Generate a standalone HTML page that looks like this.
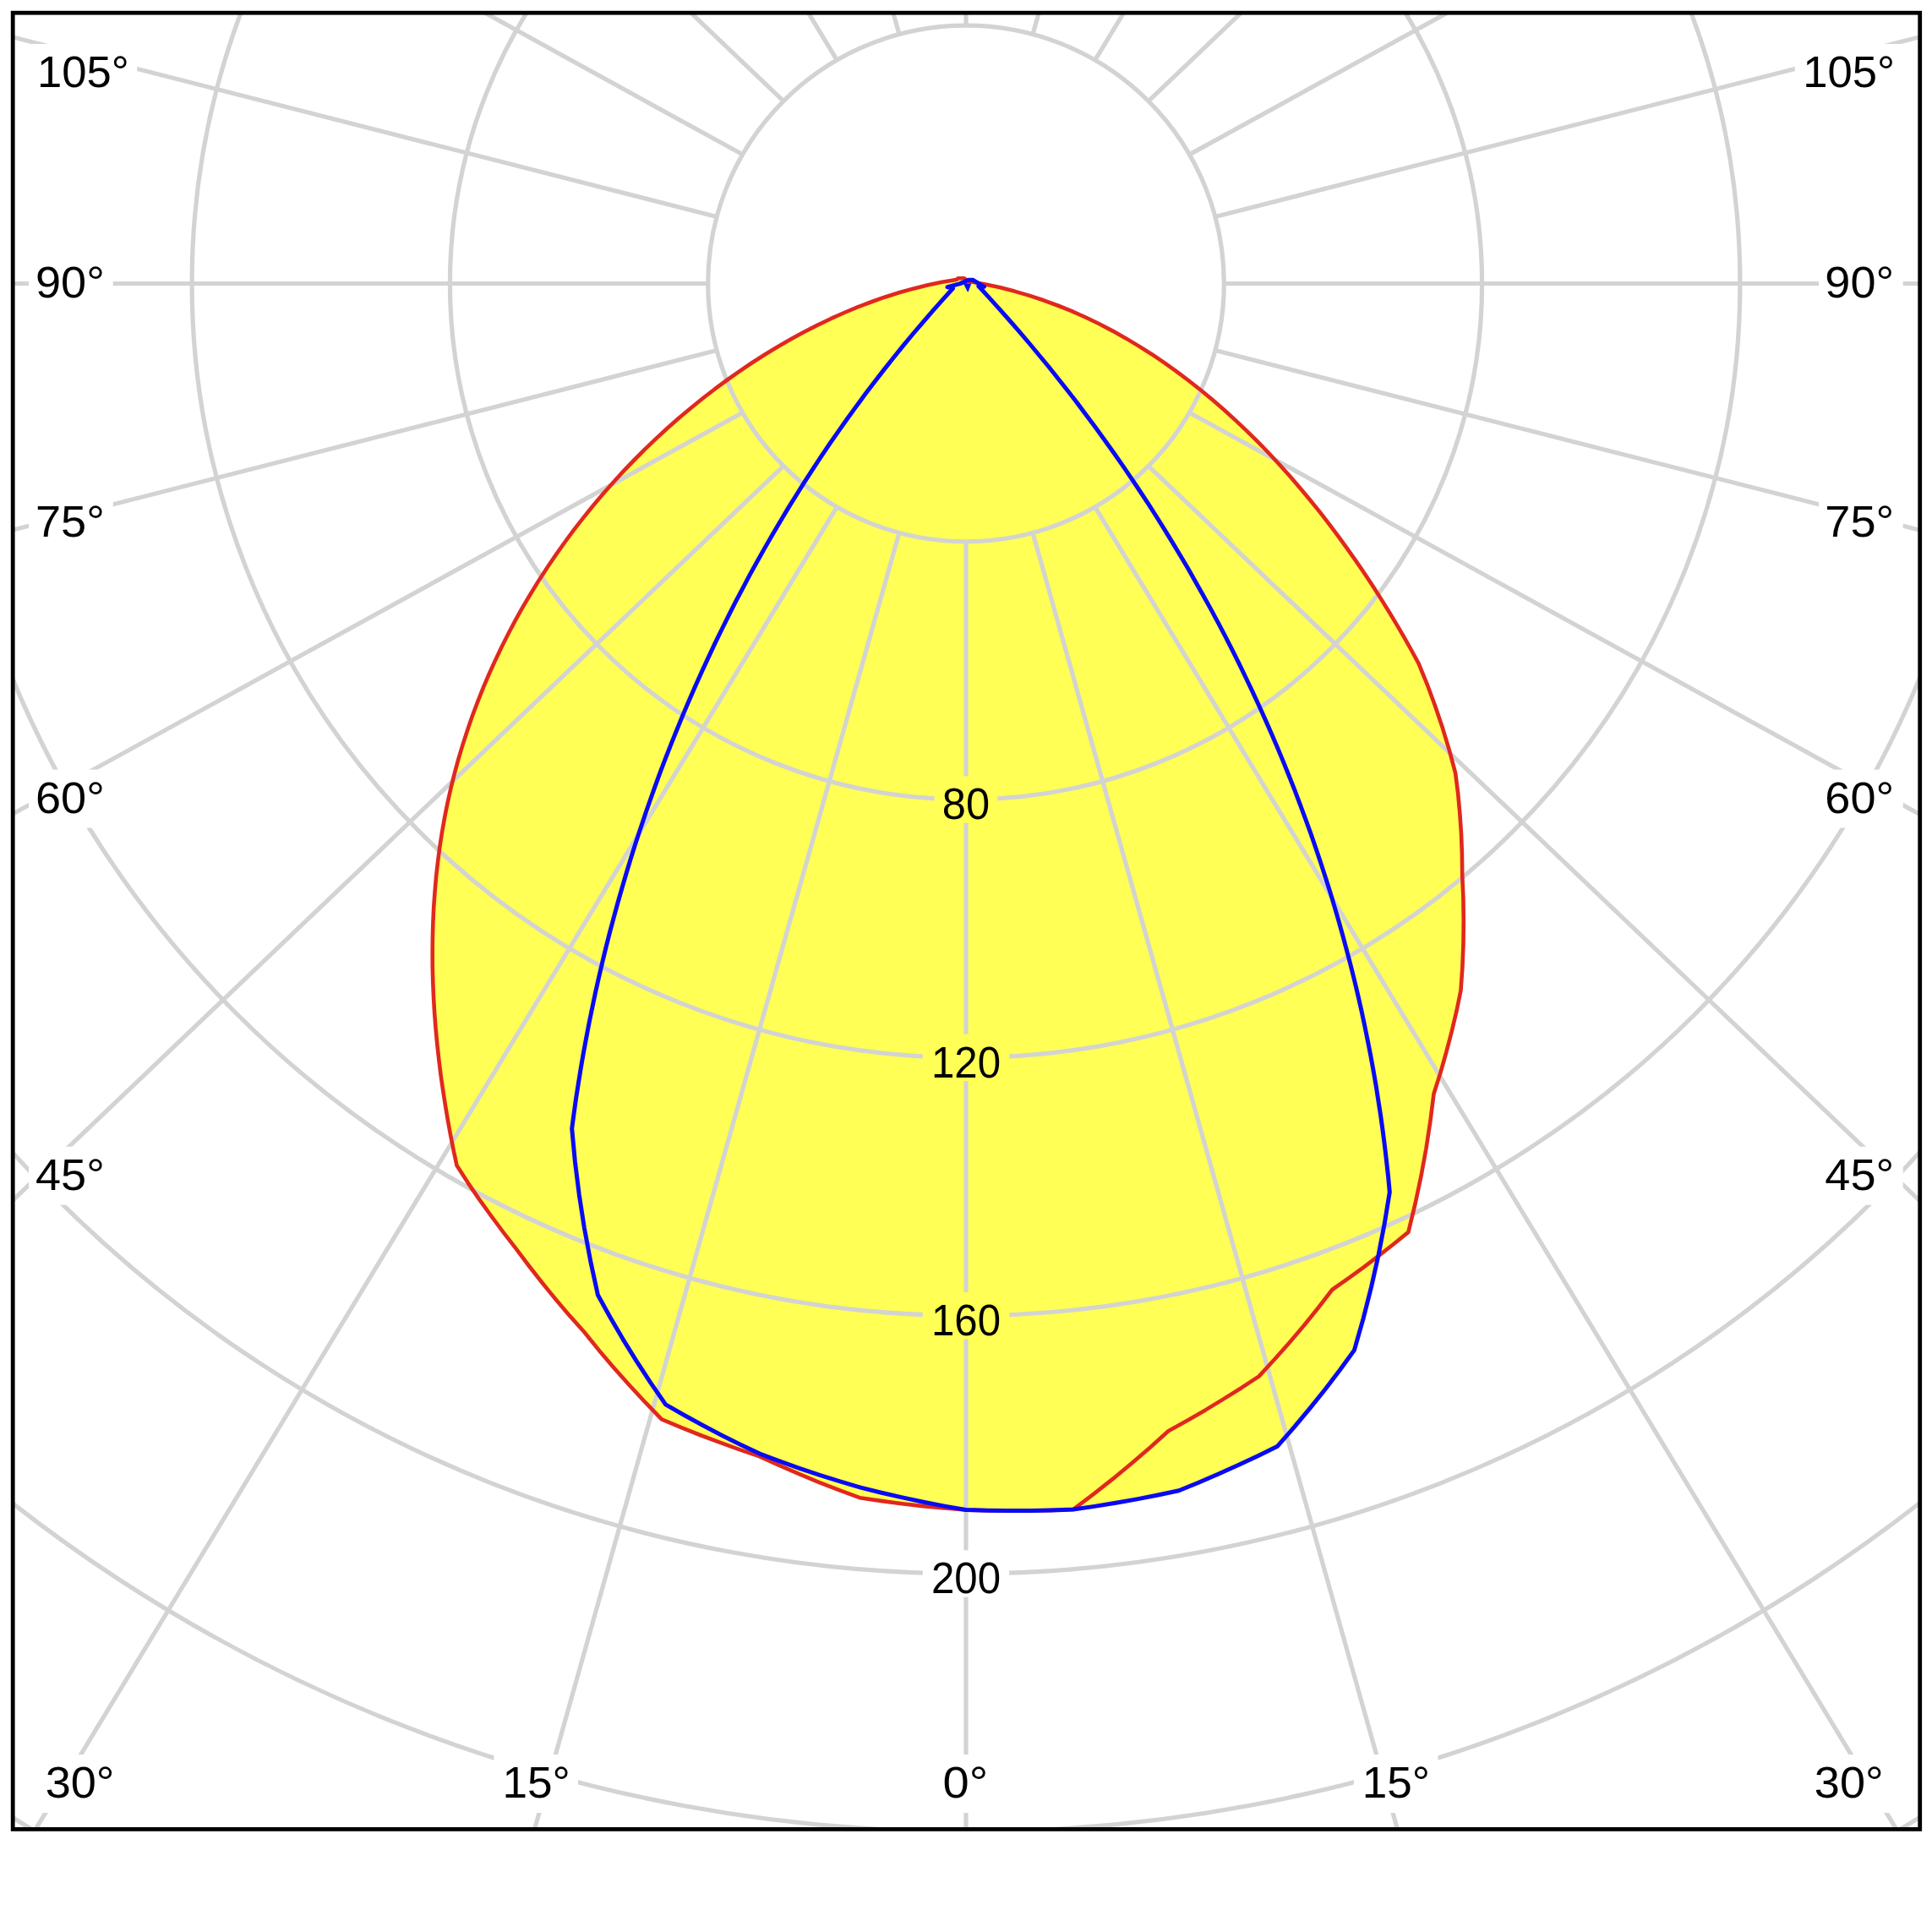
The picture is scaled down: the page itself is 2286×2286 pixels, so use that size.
<!DOCTYPE html>
<html lang="en"><head><meta charset="utf-8"><title>Polar luminous intensity diagram</title>
<style>
html,body{margin:0;padding:0;background:#fff;}
svg{display:block;}
text{font-family:"Liberation Sans",sans-serif;font-size:52.3px;fill:#000;}
</style></head><body>
<svg width="2286" height="2286" viewBox="0 0 2286 2286">
<rect x="0" y="0" width="2286" height="2286" fill="#ffffff"/>
<defs>
<clipPath id="frame"><rect x="15.2" y="15.2" width="2256.5" height="2149.2000000000003"/></clipPath>
<mask id="gaps" maskUnits="userSpaceOnUse" x="0" y="0" width="2286" height="2286">
<rect x="0" y="0" width="2286" height="2286" fill="#fff"/>
<g fill="#000">
<rect x="35.2" y="52.0" width="127.0" height="69.0"/>
<rect x="34.1" y="301.3" width="99.6" height="69.0"/>
<rect x="34.1" y="584.0" width="99.6" height="69.0"/>
<rect x="34.1" y="910.6" width="99.6" height="69.0"/>
<rect x="34.1" y="1356.7" width="99.6" height="69.0"/>
<rect x="45.8" y="2076.0" width="99.6" height="69.0"/>
<rect x="584.4" y="2076.0" width="99.6" height="69.0"/>
<rect x="1107.0" y="2076.0" width="72.0" height="69.0"/>
<rect x="1601.9" y="2076.0" width="99.6" height="69.0"/>
<rect x="2138.9" y="2076.0" width="99.6" height="69.0"/>
<rect x="2152.1" y="1356.7" width="99.6" height="69.0"/>
<rect x="2152.1" y="910.6" width="99.6" height="69.0"/>
<rect x="2152.1" y="584.0" width="99.6" height="69.0"/>
<rect x="2152.1" y="301.3" width="99.6" height="69.0"/>
<rect x="2123.8" y="52.0" width="127.0" height="69.0"/>
<rect x="1105.7" y="918.4" width="74.6" height="55.4"/>
<rect x="1091.8" y="1223.7" width="102.4" height="55.4"/>
<rect x="1091.8" y="1529.0" width="102.4" height="55.4"/>
<rect x="1091.8" y="1834.3" width="102.4" height="55.4"/>
</g>
</mask>
</defs>
<g clip-path="url(#frame)">
<path d="M1131.4,331.0 L1114.6,333.8 L1097.9,337.3 L1081.2,341.4 L1064.5,346.0 L1048.0,351.2 L1031.5,357.0 L1015.2,363.2 L998.9,370.0 L982.8,377.2 L966.9,384.9 L951.0,393.0 L935.4,401.6 L919.9,410.5 L904.6,419.8 L889.4,429.5 L874.5,439.6 L859.8,450.0 L845.3,460.7 L831.0,471.8 L816.9,483.2 L803.1,494.8 L789.5,506.8 L776.1,519.1 L763.0,531.7 L750.2,544.5 L737.6,557.6 L725.4,571.0 L713.4,584.6 L701.6,598.5 L690.2,612.6 L679.1,626.9 L668.3,641.5 L657.8,656.3 L647.7,671.2 L637.8,686.4 L628.4,701.7 L619.2,717.2 L610.4,732.9 L602.0,748.8 L593.9,764.8 L586.2,780.9 L578.8,797.3 L571.8,813.7 L565.2,830.3 L558.9,847.0 L553.1,863.9 L547.6,880.9 L542.5,897.9 L537.8,915.1 L533.5,932.4 L529.6,949.8 L526.1,967.3 L523.0,984.8 L520.3,1002.4 L518.0,1020.1 L516.0,1037.9 L514.5,1055.7 L513.2,1073.6 L512.4,1091.5 L511.9,1109.4 L511.7,1127.4 L511.8,1145.4 L512.3,1163.4 L513.1,1181.5 L514.2,1199.5 L515.6,1217.6 L517.3,1235.7 L519.3,1253.7 L521.5,1271.7 L524.1,1289.7 L526.9,1307.7 L529.9,1325.7 L533.2,1343.6 L536.7,1361.4 L540.5,1379.1 L553.4,1399.1 L566.9,1418.9 L581.0,1438.5 L595.5,1458.0 L610.5,1477.4 L625.6,1497.5 L641.3,1517.5 L657.4,1537.3 L674.1,1556.9 L691.4,1576.3 L708.5,1597.4 L726.2,1618.2 L744.5,1638.8 L763.4,1659.2 L782.9,1679.3 L805.6,1688.8 L828.4,1698.0 L851.5,1706.7 L874.8,1715.1 L898.3,1723.1 L921.5,1733.7 L945.1,1743.9 L968.9,1753.8 L992.9,1763.2 L1017.3,1772.2 L1042.3,1775.9 L1067.3,1779.2 L1092.5,1782.1 L1117.7,1784.5 L1143.0,1786.5 L1168.3,1787.3 L1193.7,1787.6 L1219.1,1787.5 L1244.5,1787.0 L1269.9,1786.0 L1293.6,1768.1 L1316.7,1749.9 L1339.2,1731.3 L1361.1,1712.4 L1382.4,1693.2 L1404.5,1680.9 L1426.3,1668.4 L1447.7,1655.4 L1468.8,1642.2 L1489.5,1628.6 L1508.0,1608.5 L1526.0,1588.2 L1543.4,1567.7 L1560.1,1547.0 L1576.3,1526.0 L1595.0,1512.9 L1613.3,1499.6 L1631.3,1485.9 L1649.0,1472.0 L1666.4,1457.9 L1674.4,1424.9 L1681.4,1392.1 L1687.4,1359.3 L1692.4,1326.7 L1696.5,1294.2 L1704.3,1269.6 L1711.3,1245.0 L1717.7,1220.5 L1723.5,1196.1 L1728.5,1171.7 L1730.4,1144.0 L1731.5,1116.5 L1731.8,1089.2 L1731.4,1062.1 L1730.2,1035.3 L1729.9,1010.7 L1729.0,986.3 L1727.3,962.1 L1725.1,938.2 L1722.1,914.6 L1714.9,887.8 L1706.9,861.3 L1698.1,835.3 L1688.7,809.8 L1678.5,784.8 L1670.1,769.5 L1661.6,754.3 L1652.7,739.1 L1643.6,724.0 L1634.2,708.9 L1624.6,693.8 L1614.7,678.8 L1604.5,663.9 L1594.1,649.1 L1583.4,634.4 L1572.5,619.8 L1561.3,605.4 L1549.8,591.2 L1538.1,577.2 L1526.1,563.3 L1513.9,549.7 L1501.4,536.3 L1488.7,523.2 L1475.7,510.3 L1462.5,497.8 L1449.0,485.5 L1435.2,473.6 L1421.3,462.0 L1407.0,450.7 L1392.6,439.8 L1377.9,429.3 L1362.9,419.2 L1347.7,409.6 L1332.3,400.4 L1316.6,391.6 L1300.7,383.3 L1284.6,375.5 L1268.2,368.2 L1251.6,361.5 L1234.7,355.3 L1217.6,349.6 L1200.3,344.6 L1182.8,340.1 L1165.0,336.2 L1147.0,333.0 L1146.5,333.0 L1140.5,329.2 L1134.0,329.2 Z" fill="#ffff55"/>
<path d="M1143.0,1786.5 L1117.7,1782.1 L1092.7,1777.2 L1067.7,1771.9 L1043.0,1766.2 L1018.4,1760.1 L994.0,1752.9 L969.9,1745.3 L946.0,1737.3 L922.3,1728.9 L898.9,1720.1 L876.0,1709.2 L853.4,1697.9 L831.1,1686.3 L809.2,1674.3 L787.6,1661.9 L770.0,1636.3 L753.2,1610.6 L737.1,1584.6 L721.9,1558.5 L707.4,1532.2 L698.8,1492.6 L691.4,1453.1 L685.3,1413.8 L680.4,1374.5 L676.7,1335.4 L679.1,1317.4 L681.6,1299.5 L684.4,1281.6 L687.3,1263.7 L690.4,1245.8 L693.7,1228.0 L697.1,1210.1 L700.8,1192.3 L704.5,1174.5 L708.5,1156.8 L712.6,1139.1 L716.9,1121.4 L721.4,1103.7 L726.1,1086.1 L730.9,1068.5 L735.9,1051.0 L741.0,1033.5 L746.3,1016.0 L751.8,998.6 L757.5,981.3 L763.3,964.0 L769.3,946.7 L775.4,929.6 L781.7,912.4 L788.2,895.4 L794.9,878.4 L801.7,861.5 L808.6,844.6 L815.8,827.8 L823.1,811.1 L830.5,794.4 L838.2,777.9 L845.9,761.4 L853.9,745.0 L862.0,728.7 L870.2,712.4 L878.7,696.3 L887.2,680.2 L896.0,664.3 L904.9,648.4 L913.9,632.7 L923.2,617.0 L932.5,601.4 L942.1,586.0 L951.7,570.6 L961.6,555.4 L971.6,540.2 L981.7,525.2 L992.0,510.3 L1002.5,495.5 L1013.1,480.9 L1023.8,466.3 L1034.7,451.9 L1045.8,437.6 L1057.0,423.5 L1068.4,409.4 L1079.9,395.5 L1091.6,381.8 L1103.4,368.2 L1115.4,354.7 L1127.5,341.3 L1121.0,339.6 L1136.0,335.6 L1146.0,331.2 L1151.0,331.2 L1164.5,339.3 L1157.8,338.5 L1170.1,351.9 L1182.3,365.4 L1194.4,379.0 L1206.3,392.7 L1218.1,406.5 L1229.7,420.5 L1241.3,434.5 L1252.6,448.7 L1263.9,463.0 L1275.0,477.4 L1285.9,491.9 L1296.8,506.5 L1307.4,521.2 L1318.0,536.0 L1328.4,550.9 L1338.6,565.9 L1348.7,581.0 L1358.7,596.2 L1368.5,611.5 L1378.1,626.9 L1387.6,642.4 L1397.0,658.0 L1406.2,673.6 L1415.2,689.4 L1424.1,705.2 L1432.9,721.1 L1441.5,737.1 L1449.9,753.2 L1458.2,769.4 L1466.3,785.6 L1474.2,802.0 L1482.0,818.4 L1489.6,834.8 L1497.1,851.4 L1504.4,868.0 L1511.6,884.7 L1518.5,901.4 L1525.3,918.2 L1532.0,935.1 L1538.4,952.1 L1544.7,969.1 L1550.9,986.2 L1556.8,1003.3 L1562.6,1020.5 L1568.2,1037.7 L1573.7,1055.0 L1578.9,1072.4 L1584.0,1089.8 L1588.9,1107.3 L1593.6,1124.8 L1598.2,1142.4 L1602.6,1160.0 L1606.8,1177.6 L1610.8,1195.3 L1614.6,1213.0 L1618.2,1230.8 L1621.7,1248.6 L1625.0,1266.5 L1628.1,1284.4 L1630.9,1302.3 L1633.7,1320.3 L1636.2,1338.3 L1638.5,1356.3 L1640.6,1374.4 L1642.6,1392.4 L1644.3,1410.6 L1638.2,1447.8 L1631.0,1485.2 L1622.6,1522.6 L1613.1,1560.1 L1602.4,1597.6 L1585.6,1620.8 L1568.1,1643.7 L1549.9,1666.4 L1531.1,1688.9 L1511.6,1711.2 L1488.8,1722.4 L1465.7,1733.3 L1442.4,1743.8 L1418.7,1754.0 L1394.8,1763.7 L1370.0,1769.0 L1345.2,1773.9 L1320.2,1778.3 L1295.1,1782.4 L1269.9,1786.0 L1244.5,1787.0 L1219.1,1787.5 L1193.7,1787.6 L1168.3,1787.3 L1143.0,1786.5 Z" fill="#ffff55"/>
<g mask="url(#gaps)" fill="none" stroke="#d3d3d3" stroke-width="5.2">
<circle cx="1143.0" cy="335.5" r="305.3"/>
<circle cx="1143.0" cy="335.5" r="610.6"/>
<circle cx="1143.0" cy="335.5" r="915.9"/>
<circle cx="1143.0" cy="335.5" r="1221.2"/>
<circle cx="1143.0" cy="335.5" r="1526.5"/>
<circle cx="1143.0" cy="335.5" r="1831.8"/>
<circle cx="1143.0" cy="335.5" r="2137.1"/>
<circle cx="1143.0" cy="335.5" r="2442.4"/>
<line x1="1143.0" y1="640.8" x2="1143.0" y2="3689.1"/>
<line x1="1222.0" y1="630.4" x2="2050.2" y2="3574.8"/>
<line x1="1295.7" y1="599.9" x2="2895.6" y2="3239.8"/>
<line x1="1358.9" y1="551.4" x2="3621.6" y2="2706.9"/>
<line x1="1407.4" y1="488.2" x2="4178.7" y2="2012.3"/>
<line x1="1437.9" y1="414.5" x2="4528.9" y2="1203.5"/>
<line x1="1448.3" y1="335.5" x2="4648.3" y2="335.5"/>
<line x1="1437.9" y1="256.5" x2="4528.9" y2="-532.5"/>
<line x1="1407.4" y1="182.9" x2="4178.7" y2="-1341.3"/>
<line x1="1358.9" y1="119.6" x2="3621.6" y2="-2035.9"/>
<line x1="1295.7" y1="71.1" x2="2895.6" y2="-2568.8"/>
<line x1="1222.0" y1="40.6" x2="2050.2" y2="-2903.8"/>
<line x1="1143.0" y1="30.2" x2="1143.0" y2="-3018.1"/>
<line x1="1064.0" y1="40.6" x2="235.8" y2="-2903.8"/>
<line x1="990.3" y1="71.1" x2="-609.7" y2="-2568.8"/>
<line x1="927.1" y1="119.6" x2="-1335.6" y2="-2035.9"/>
<line x1="878.6" y1="182.8" x2="-1892.7" y2="-1341.3"/>
<line x1="848.1" y1="256.5" x2="-2242.9" y2="-532.5"/>
<line x1="837.7" y1="335.5" x2="-2362.3" y2="335.5"/>
<line x1="848.1" y1="414.5" x2="-2242.9" y2="1203.5"/>
<line x1="878.6" y1="488.2" x2="-1892.7" y2="2012.3"/>
<line x1="927.1" y1="551.4" x2="-1335.6" y2="2706.9"/>
<line x1="990.3" y1="599.9" x2="-609.7" y2="3239.8"/>
<line x1="1064.0" y1="630.4" x2="235.8" y2="3574.8"/>
</g>
<path d="M1131.4,331.0 L1114.6,333.8 L1097.9,337.3 L1081.2,341.4 L1064.5,346.0 L1048.0,351.2 L1031.5,357.0 L1015.2,363.2 L998.9,370.0 L982.8,377.2 L966.9,384.9 L951.0,393.0 L935.4,401.6 L919.9,410.5 L904.6,419.8 L889.4,429.5 L874.5,439.6 L859.8,450.0 L845.3,460.7 L831.0,471.8 L816.9,483.2 L803.1,494.8 L789.5,506.8 L776.1,519.1 L763.0,531.7 L750.2,544.5 L737.6,557.6 L725.4,571.0 L713.4,584.6 L701.6,598.5 L690.2,612.6 L679.1,626.9 L668.3,641.5 L657.8,656.3 L647.7,671.2 L637.8,686.4 L628.4,701.7 L619.2,717.2 L610.4,732.9 L602.0,748.8 L593.9,764.8 L586.2,780.9 L578.8,797.3 L571.8,813.7 L565.2,830.3 L558.9,847.0 L553.1,863.9 L547.6,880.9 L542.5,897.9 L537.8,915.1 L533.5,932.4 L529.6,949.8 L526.1,967.3 L523.0,984.8 L520.3,1002.4 L518.0,1020.1 L516.0,1037.9 L514.5,1055.7 L513.2,1073.6 L512.4,1091.5 L511.9,1109.4 L511.7,1127.4 L511.8,1145.4 L512.3,1163.4 L513.1,1181.5 L514.2,1199.5 L515.6,1217.6 L517.3,1235.7 L519.3,1253.7 L521.5,1271.7 L524.1,1289.7 L526.9,1307.7 L529.9,1325.7 L533.2,1343.6 L536.7,1361.4 L540.5,1379.1 L553.4,1399.1 L566.9,1418.9 L581.0,1438.5 L595.5,1458.0 L610.5,1477.4 L625.6,1497.5 L641.3,1517.5 L657.4,1537.3 L674.1,1556.9 L691.4,1576.3 L708.5,1597.4 L726.2,1618.2 L744.5,1638.8 L763.4,1659.2 L782.9,1679.3 L805.6,1688.8 L828.4,1698.0 L851.5,1706.7 L874.8,1715.1 L898.3,1723.1 L921.5,1733.7 L945.1,1743.9 L968.9,1753.8 L992.9,1763.2 L1017.3,1772.2 L1042.3,1775.9 L1067.3,1779.2 L1092.5,1782.1 L1117.7,1784.5 L1143.0,1786.5 L1168.3,1787.3 L1193.7,1787.6 L1219.1,1787.5 L1244.5,1787.0 L1269.9,1786.0 L1293.6,1768.1 L1316.7,1749.9 L1339.2,1731.3 L1361.1,1712.4 L1382.4,1693.2 L1404.5,1680.9 L1426.3,1668.4 L1447.7,1655.4 L1468.8,1642.2 L1489.5,1628.6 L1508.0,1608.5 L1526.0,1588.2 L1543.4,1567.7 L1560.1,1547.0 L1576.3,1526.0 L1595.0,1512.9 L1613.3,1499.6 L1631.3,1485.9 L1649.0,1472.0 L1666.4,1457.9 L1674.4,1424.9 L1681.4,1392.1 L1687.4,1359.3 L1692.4,1326.7 L1696.5,1294.2 L1704.3,1269.6 L1711.3,1245.0 L1717.7,1220.5 L1723.5,1196.1 L1728.5,1171.7 L1730.4,1144.0 L1731.5,1116.5 L1731.8,1089.2 L1731.4,1062.1 L1730.2,1035.3 L1729.9,1010.7 L1729.0,986.3 L1727.3,962.1 L1725.1,938.2 L1722.1,914.6 L1714.9,887.8 L1706.9,861.3 L1698.1,835.3 L1688.7,809.8 L1678.5,784.8 L1670.1,769.5 L1661.6,754.3 L1652.7,739.1 L1643.6,724.0 L1634.2,708.9 L1624.6,693.8 L1614.7,678.8 L1604.5,663.9 L1594.1,649.1 L1583.4,634.4 L1572.5,619.8 L1561.3,605.4 L1549.8,591.2 L1538.1,577.2 L1526.1,563.3 L1513.9,549.7 L1501.4,536.3 L1488.7,523.2 L1475.7,510.3 L1462.5,497.8 L1449.0,485.5 L1435.2,473.6 L1421.3,462.0 L1407.0,450.7 L1392.6,439.8 L1377.9,429.3 L1362.9,419.2 L1347.7,409.6 L1332.3,400.4 L1316.6,391.6 L1300.7,383.3 L1284.6,375.5 L1268.2,368.2 L1251.6,361.5 L1234.7,355.3 L1217.6,349.6 L1200.3,344.6 L1182.8,340.1 L1165.0,336.2 L1147.0,333.0 L1146.5,333.0 L1140.5,329.2 L1134.0,329.2 Z" fill="none" stroke="#e0281e" stroke-width="4.6" stroke-linejoin="round"/>
<path d="M1143.0,1786.5 L1117.7,1782.1 L1092.7,1777.2 L1067.7,1771.9 L1043.0,1766.2 L1018.4,1760.1 L994.0,1752.9 L969.9,1745.3 L946.0,1737.3 L922.3,1728.9 L898.9,1720.1 L876.0,1709.2 L853.4,1697.9 L831.1,1686.3 L809.2,1674.3 L787.6,1661.9 L770.0,1636.3 L753.2,1610.6 L737.1,1584.6 L721.9,1558.5 L707.4,1532.2 L698.8,1492.6 L691.4,1453.1 L685.3,1413.8 L680.4,1374.5 L676.7,1335.4 L679.1,1317.4 L681.6,1299.5 L684.4,1281.6 L687.3,1263.7 L690.4,1245.8 L693.7,1228.0 L697.1,1210.1 L700.8,1192.3 L704.5,1174.5 L708.5,1156.8 L712.6,1139.1 L716.9,1121.4 L721.4,1103.7 L726.1,1086.1 L730.9,1068.5 L735.9,1051.0 L741.0,1033.5 L746.3,1016.0 L751.8,998.6 L757.5,981.3 L763.3,964.0 L769.3,946.7 L775.4,929.6 L781.7,912.4 L788.2,895.4 L794.9,878.4 L801.7,861.5 L808.6,844.6 L815.8,827.8 L823.1,811.1 L830.5,794.4 L838.2,777.9 L845.9,761.4 L853.9,745.0 L862.0,728.7 L870.2,712.4 L878.7,696.3 L887.2,680.2 L896.0,664.3 L904.9,648.4 L913.9,632.7 L923.2,617.0 L932.5,601.4 L942.1,586.0 L951.7,570.6 L961.6,555.4 L971.6,540.2 L981.7,525.2 L992.0,510.3 L1002.5,495.5 L1013.1,480.9 L1023.8,466.3 L1034.7,451.9 L1045.8,437.6 L1057.0,423.5 L1068.4,409.4 L1079.9,395.5 L1091.6,381.8 L1103.4,368.2 L1115.4,354.7 L1127.5,341.3 L1121.0,339.6 L1136.0,335.6 L1146.0,331.2 L1151.0,331.2 L1164.5,339.3 L1157.8,338.5 L1170.1,351.9 L1182.3,365.4 L1194.4,379.0 L1206.3,392.7 L1218.1,406.5 L1229.7,420.5 L1241.3,434.5 L1252.6,448.7 L1263.9,463.0 L1275.0,477.4 L1285.9,491.9 L1296.8,506.5 L1307.4,521.2 L1318.0,536.0 L1328.4,550.9 L1338.6,565.9 L1348.7,581.0 L1358.7,596.2 L1368.5,611.5 L1378.1,626.9 L1387.6,642.4 L1397.0,658.0 L1406.2,673.6 L1415.2,689.4 L1424.1,705.2 L1432.9,721.1 L1441.5,737.1 L1449.9,753.2 L1458.2,769.4 L1466.3,785.6 L1474.2,802.0 L1482.0,818.4 L1489.6,834.8 L1497.1,851.4 L1504.4,868.0 L1511.6,884.7 L1518.5,901.4 L1525.3,918.2 L1532.0,935.1 L1538.4,952.1 L1544.7,969.1 L1550.9,986.2 L1556.8,1003.3 L1562.6,1020.5 L1568.2,1037.7 L1573.7,1055.0 L1578.9,1072.4 L1584.0,1089.8 L1588.9,1107.3 L1593.6,1124.8 L1598.2,1142.4 L1602.6,1160.0 L1606.8,1177.6 L1610.8,1195.3 L1614.6,1213.0 L1618.2,1230.8 L1621.7,1248.6 L1625.0,1266.5 L1628.1,1284.4 L1630.9,1302.3 L1633.7,1320.3 L1636.2,1338.3 L1638.5,1356.3 L1640.6,1374.4 L1642.6,1392.4 L1644.3,1410.6 L1638.2,1447.8 L1631.0,1485.2 L1622.6,1522.6 L1613.1,1560.1 L1602.4,1597.6 L1585.6,1620.8 L1568.1,1643.7 L1549.9,1666.4 L1531.1,1688.9 L1511.6,1711.2 L1488.8,1722.4 L1465.7,1733.3 L1442.4,1743.8 L1418.7,1754.0 L1394.8,1763.7 L1370.0,1769.0 L1345.2,1773.9 L1320.2,1778.3 L1295.1,1782.4 L1269.9,1786.0 L1244.5,1787.0 L1219.1,1787.5 L1193.7,1787.6 L1168.3,1787.3 L1143.0,1786.5 Z" fill="none" stroke="#0a0af5" stroke-width="5.0" stroke-linejoin="round"/>
<path d="M1140.5,335.0 L1145.2,344.5 L1148.5,335.5" fill="#0a0af5" stroke="#0a0af5" stroke-width="1.5" stroke-linejoin="round"/>
</g>
<g>
<text x="98.4" y="103.0" text-anchor="middle" textLength="108.8" lengthAdjust="spacingAndGlyphs">105°</text>
<text x="82.9" y="352.3" text-anchor="middle" textLength="81.8" lengthAdjust="spacingAndGlyphs">90°</text>
<text x="82.9" y="635.0" text-anchor="middle" textLength="81.8" lengthAdjust="spacingAndGlyphs">75°</text>
<text x="82.9" y="961.6" text-anchor="middle" textLength="81.8" lengthAdjust="spacingAndGlyphs">60°</text>
<text x="82.9" y="1407.7" text-anchor="middle" textLength="81.8" lengthAdjust="spacingAndGlyphs">45°</text>
<text x="94.6" y="2127.0" text-anchor="middle" textLength="81.8" lengthAdjust="spacingAndGlyphs">30°</text>
<text x="634.6" y="2127.0" text-anchor="middle" textLength="80.3" lengthAdjust="spacingAndGlyphs">15°</text>
<text x="1142.4" y="2127.0" text-anchor="middle" textLength="53.6" lengthAdjust="spacingAndGlyphs">0°</text>
<text x="1651.8" y="2127.0" text-anchor="middle" textLength="80.3" lengthAdjust="spacingAndGlyphs">15°</text>
<text x="2187.7" y="2127.0" text-anchor="middle" textLength="81.8" lengthAdjust="spacingAndGlyphs">30°</text>
<text x="2200.2" y="1407.7" text-anchor="middle" textLength="81.8" lengthAdjust="spacingAndGlyphs">45°</text>
<text x="2200.2" y="961.6" text-anchor="middle" textLength="81.8" lengthAdjust="spacingAndGlyphs">60°</text>
<text x="2200.2" y="635.0" text-anchor="middle" textLength="81.8" lengthAdjust="spacingAndGlyphs">75°</text>
<text x="2200.2" y="352.3" text-anchor="middle" textLength="81.8" lengthAdjust="spacingAndGlyphs">90°</text>
<text x="2187.7" y="103.0" text-anchor="middle" textLength="108.8" lengthAdjust="spacingAndGlyphs">105°</text>
<text x="1143.0" y="969.4" text-anchor="middle" textLength="56.3" lengthAdjust="spacingAndGlyphs">80</text>
<text x="1143.0" y="1274.7" text-anchor="middle" textLength="82.1" lengthAdjust="spacingAndGlyphs">120</text>
<text x="1143.0" y="1580.0" text-anchor="middle" textLength="82.1" lengthAdjust="spacingAndGlyphs">160</text>
<text x="1143.0" y="1885.3" text-anchor="middle" textLength="82.1" lengthAdjust="spacingAndGlyphs">200</text>
</g>
<rect x="15.2" y="15.2" width="2256.5" height="2149.2000000000003" fill="none" stroke="#000" stroke-width="4.8"/>
</svg>
</body></html>
